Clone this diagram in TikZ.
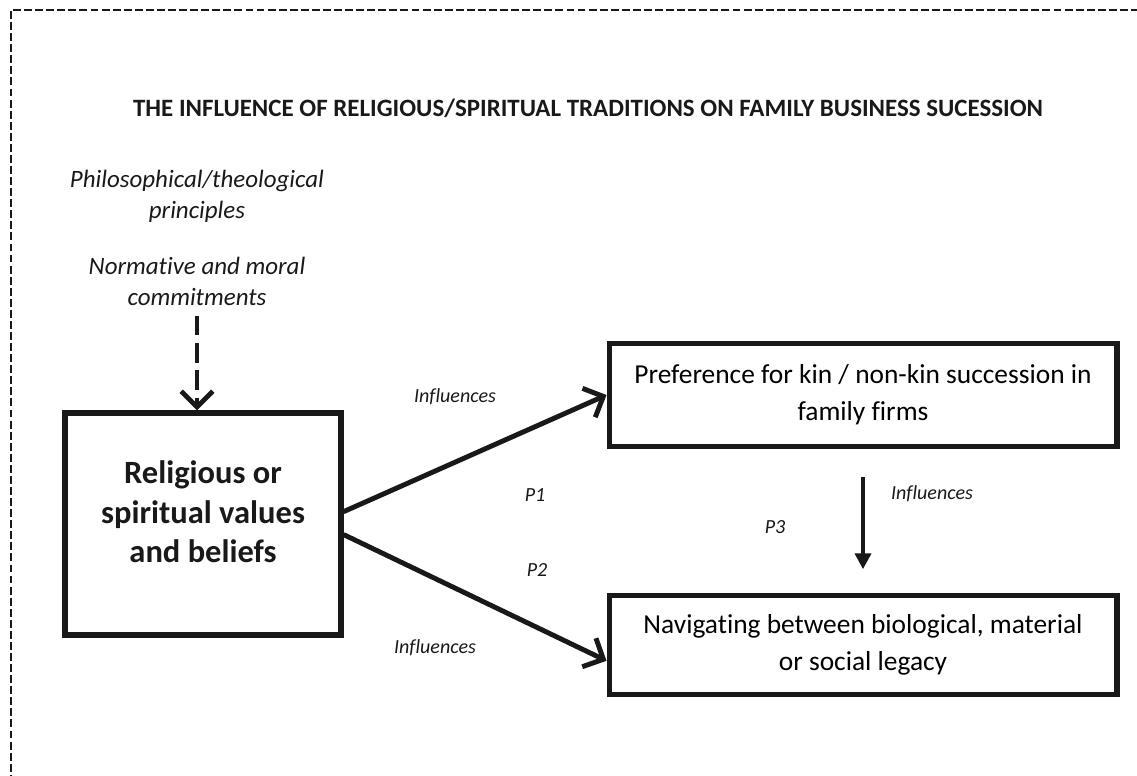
\documentclass[tikz,border=0pt]{standalone}
\usepackage{fontspec}
\setmainfont{Carlito}[Ligatures = NoCommon]
\usetikzlibrary{arrows.meta}
\begin{document}
\begin{tikzpicture}[x=0.02cm, y=-0.02cm,
  box/.style = {draw = black!90, line width = 2.9pt, align = center, inner sep = 0pt},
  note/.style = {font = \fontsize{11.4}{13}\selectfont\itshape, text = black!90},
  src/.style = {font = \fontsize{14.2}{17.6}\selectfont\itshape, align = center, text = black!90},
  link/.style = {draw = black!90, line width = 2.8pt, -{Straight Barb[length = 9pt, width = 18pt, line width = 2.8pt]}}]
\useasboundingbox (0, 0) rectangle (1137, 776);
\draw[black!90, line width = 1.1pt, dash pattern = on 4.5pt off 1.8pt] (1150, 10) -- (11, 10) -- (11, 790);
\node[font = \fontsize{14.2}{17}\selectfont\bfseries, text = black!90] (title) at (588, 108) {THE INFLUENCE OF RELIGIOUS/SPIRITUAL TRADITIONS ON FAMILY BUSINESS SUCESSION};
\node[src] (princ) at (197, 196) {Philosophical/theological\\principles};
\node[src] (norm) at (197, 281) {Normative and moral\\commitments};
\node[box, minimum width = 5.52cm, minimum height = 4.44cm, label = {[yshift = 6.8pt, align = center, text = black!90, font = \fontsize{18.5}{22.5}\selectfont\bfseries]center:Religious or\\spiritual values\\and beliefs}] (rel) at (203, 524) {};
\node[box, minimum width = 10.16cm, minimum height = 2.06cm, font = \fontsize{15.6}{21}\selectfont] (pref) at (863, 395) {Preference for kin / non-kin succession in\\family firms};
\node[box, minimum width = 10.16cm, minimum height = 1.98cm, font = \fontsize{15.6}{21}\selectfont] (nav) at (863, 645) {Navigating between biological, material\\or social legacy};
\coordinate (dstart) at (197, 316);
\draw[black!90, line width = 2.8pt, dash pattern = on 11pt off 4.5pt, -{Straight Barb[length = 9pt, width = 18pt, line width = 2.8pt]}] (dstart) -- (dstart |- rel.north);
\draw[link] ([yshift = 7pt]rel.east) -- (pref.west);
\draw[link] ([yshift = -6pt]rel.east) -- ([yshift = -9pt]nav.west);
\draw[black!90, line width = 2.3pt, shorten <= 16pt, shorten >= 13.5pt, -{Triangle[length = 9pt, width = 9pt]}] (pref.south) -- (nav.north);
\node[note] (inf1) at (455, 397) {Influences};
\node[note] (p1) at (535, 495) {P1};
\node[note] (p2) at (537, 570) {P2};
\node[note] (inf2) at (435, 648) {Influences};
\node[note] (p3) at (775, 527) {P3};
\node[note] (inf3) at (932, 494) {Influences};
\end{tikzpicture}
\end{document}
